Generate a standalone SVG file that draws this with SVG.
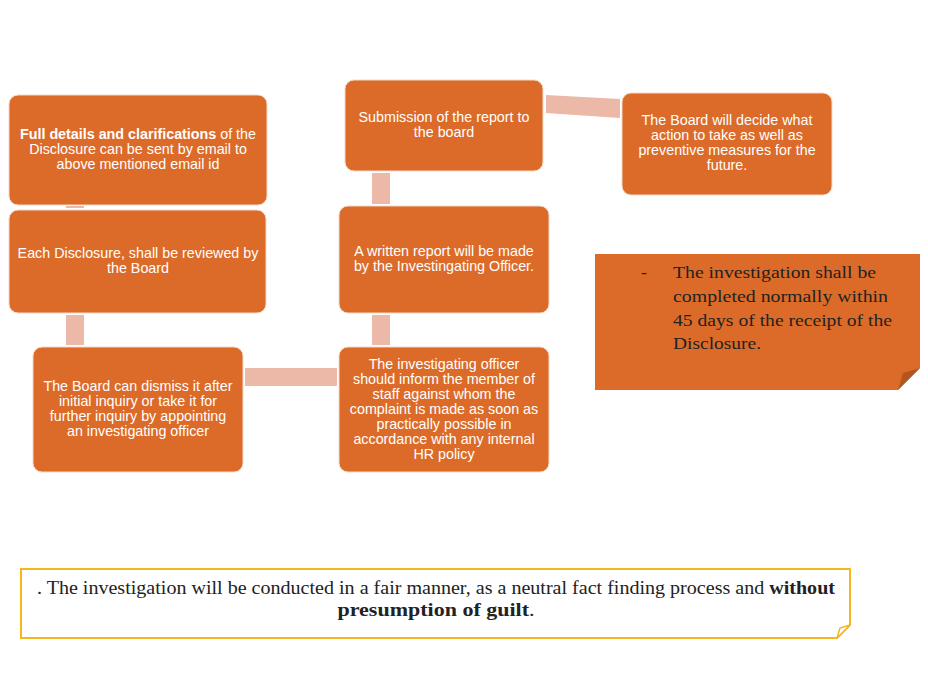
<svg xmlns="http://www.w3.org/2000/svg" width="928" height="700" viewBox="0 0 928 700">
<style>
.box{fill:#DC6B29;stroke:#F4D9C8;stroke-width:1}
.conn{fill:#ECB8A8}
.t{font-family:"Liberation Sans",Arial,sans-serif;font-size:14.3px;fill:#FFFFFF;text-anchor:middle}
.s{font-family:"Liberation Serif","DejaVu Serif",serif;fill:#222222}
</style>
<rect width="928" height="700" fill="#FFFFFF"/>
<g id="connectors">
<rect class="conn" x="66" y="206" width="18" height="2"/>
<rect class="conn" x="66" y="315" width="18" height="30"/>
<rect class="conn" x="245" y="368" width="92" height="18"/>
<rect class="conn" x="372" y="315" width="18" height="30"/>
<rect class="conn" x="372" y="173" width="18" height="31"/>
<polygon class="conn" points="546,95 620,99 620,118 546,113"/>
</g>
<g id="n1">
<rect class="box" x="9" y="95" width="258" height="110" rx="9"/>
<text class="t" x="138" y="139"><tspan font-weight="bold">Full details and clarifications</tspan> of the</text>
<text class="t" x="138" y="154">Disclosure can be sent by email to</text>
<text class="t" x="138" y="169">above mentioned email id</text>
</g>
<g id="n2">
<rect class="box" x="9" y="210" width="257" height="103" rx="9"/>
<text class="t" x="138" y="258">Each Disclosure, shall be reviewed by</text>
<text class="t" x="138" y="273">the Board</text>
</g>
<g id="n3">
<rect class="box" x="33" y="347" width="210" height="125" rx="9"/>
<text class="t" x="138" y="391">The Board can dismiss it after</text>
<text class="t" x="138" y="406">initial inquiry or take it for</text>
<text class="t" x="138" y="421">further inquiry by appointing</text>
<text class="t" x="138" y="436">an investigating officer</text>
</g>
<g id="n4">
<rect class="box" x="339" y="347" width="210" height="125" rx="9"/>
<text class="t" x="444" y="369">The investigating officer</text>
<text class="t" x="444" y="384">should inform the member of</text>
<text class="t" x="444" y="399">staff against whom the</text>
<text class="t" x="444" y="414">complaint is made as soon as</text>
<text class="t" x="444" y="429">practically possible in</text>
<text class="t" x="444" y="444">accordance with any internal</text>
<text class="t" x="444" y="459">HR policy</text>
</g>
<g id="n5">
<rect class="box" x="339" y="206" width="210" height="107" rx="9"/>
<text class="t" x="444" y="256">A written report will be made</text>
<text class="t" x="444" y="271">by the Investingating Officer.</text>
</g>
<g id="n6">
<rect class="box" x="345" y="80" width="198" height="91" rx="9"/>
<text class="t" x="444" y="122">Submission of the report to</text>
<text class="t" x="444" y="137">the board</text>
</g>
<g id="n7">
<rect class="box" x="622" y="93" width="210" height="102" rx="9"/>
<text class="t" x="727" y="125">The Board will decide what</text>
<text class="t" x="727" y="140">action to take as well as</text>
<text class="t" x="727" y="155">preventive measures for the</text>
<text class="t" x="727" y="170">future.</text>
</g>
<g id="note1">
<polygon points="595,254 920,254 920,368 898,390 595,390" fill="#DC6B29"/>
<polygon points="898,390 903,373 920,368" fill="#B0561E"/>
<text class="s" x="641" y="278" font-size="17.5">-</text>
<text class="s" x="673" y="278" font-size="17.5" textLength="203" lengthAdjust="spacingAndGlyphs">The investigation shall be</text>
<text class="s" x="673" y="302" font-size="17.5" textLength="215" lengthAdjust="spacingAndGlyphs">completed normally within</text>
<text class="s" x="673" y="326" font-size="17.5" textLength="219" lengthAdjust="spacingAndGlyphs">45 days of the receipt of the</text>
<text class="s" x="673" y="349" font-size="17.5" textLength="88" lengthAdjust="spacingAndGlyphs">Disclosure.</text>
</g>
<g id="note2">
<polygon points="21,569 850,569 850,625 837,638 21,638" fill="#FFFFFF" stroke="#F7B520" stroke-width="2"/>
<polygon points="837,638 840,628 850,625" fill="#FFFFFF" stroke="#F7B520" stroke-width="1.5"/>
<text class="s" x="436" y="594" font-size="19" text-anchor="middle" textLength="798" lengthAdjust="spacingAndGlyphs">. The investigation will be conducted in a fair manner, as a neutral fact finding process and <tspan font-weight="bold">without</tspan></text>
<text class="s" x="436" y="616" font-size="19" text-anchor="middle" textLength="197" lengthAdjust="spacingAndGlyphs"><tspan font-weight="bold">presumption of guilt</tspan>.</text>
</g>
</svg>
